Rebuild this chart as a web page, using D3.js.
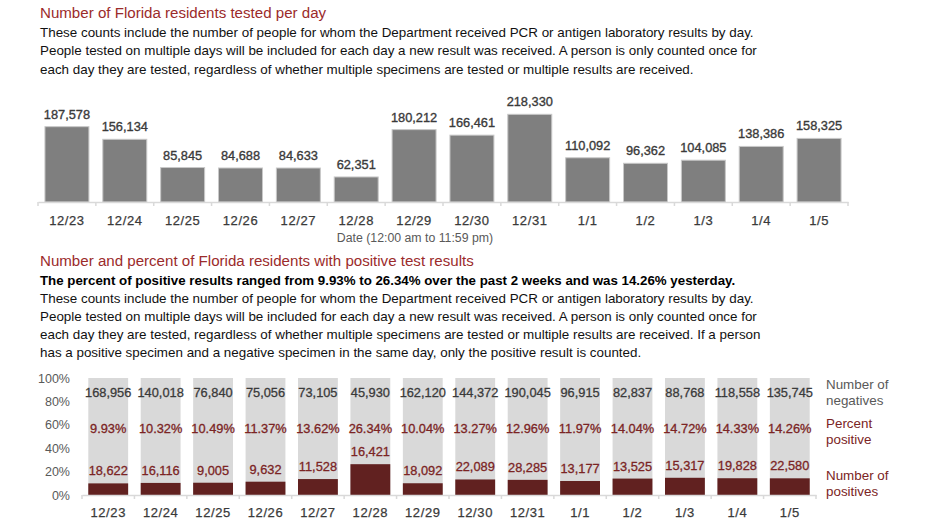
<!DOCTYPE html>
<html>
<head>
<meta charset="utf-8">
<script src="https://cdn.jsdelivr.net/npm/d3@7/dist/d3.min.js"></script>
<style>
  html, body { margin: 0; padding: 0; background: #fff; }
  svg { display: block; font-family: "Liberation Sans", Arial, sans-serif; }
</style>
</head>
<body>
<svg id="chart" width="932" height="524"></svg>
<script>
const dates = ["12/23","12/24","12/25","12/26","12/27","12/28","12/29","12/30","12/31","1/1","1/2","1/3","1/4","1/5"];
const tested = [187578,156134,85845,84688,84633,62351,180212,166461,218330,110092,96362,104085,138386,158325];
const negatives = [168956,140018,76840,75056,73105,45930,162120,144372,190045,96915,82837,88768,118558,135745];
const positives = [18622,16116,9005,9632,11528,16421,18092,22089,28285,13177,13525,15317,19828,22580];
const percentLabels = ["9.93%","10.32%","10.49%","11.37%","13.62%","26.34%","10.04%","13.27%","12.96%","11.97%","14.04%","14.72%","14.33%","14.26%"];
const yTicks = [0,0.2,0.4,0.6,0.8,1.0];

const title1 = "Number of Florida residents tested per day";
const body1 = [
  "These counts include the number of people for whom the Department received PCR or antigen laboratory results by day.",
  "People tested on multiple days will be included for each day a new result was received. A person is only counted once for",
  "each day they are tested, regardless of whether multiple specimens are tested or multiple results are received."
];
const xTitle1 = "Date (12:00 am to 11:59 pm)";
const title2 = "Number and percent of Florida residents with positive test results";
const bold2 = "The percent of positive results ranged from 9.93% to 26.34% over the past 2 weeks and was 14.26% yesterday.";
const body2 = [
  "These counts include the number of people for whom the Department received PCR or antigen laboratory results by day.",
  "People tested on multiple days will be included for each day a new result was received. A person is only counted once for",
  "each day they are tested, regardless of whether multiple specimens are tested or multiple results are received. If a person",
  "has a positive specimen and a negative specimen in the same day, only the positive result is counted."
];
const legend2 = [
  {lines:["Number of","negatives"], color:"#595959"},
  {lines:["Percent","positive"], color:"#7b2424"},
  {lines:["Number of","positives"], color:"#7b2424"}
];

const svg = d3.select("#chart");
const fmt = d3.format(",");
const RED = "#9b2b2b";
const DARK = "#3a3a3a";
const BODY = 13.4;

// ---------- Header 1 ----------
svg.append("text").attr("x",40).attr("y",18).attr("fill",RED)
  .attr("font-size",15.1).text(title1);
body1.forEach((t,i)=>{
  svg.append("text").attr("x",40).attr("y",36.5+i*18.5).attr("fill","#111")
    .attr("font-size",BODY).text(t);
});

// ---------- Chart 1 ----------
const x1 = d3.scaleBand().domain(dates).range([38,848]).paddingInner(0.24).paddingOuter(0.12);
const y1 = d3.scaleLinear().domain([0,250000]).range([202,101.6]);
const g1 = svg.append("g");
g1.selectAll("rect.bar").data(dates).join("rect")
  .attr("x",d=>x1(d)).attr("width",x1.bandwidth())
  .attr("y",(d,i)=>y1(tested[i])).attr("height",(d,i)=>y1(0)-y1(tested[i]))
  .attr("fill","#7f7f7f").attr("stroke","#c8c8c8").attr("stroke-width",1);
g1.selectAll("text.val").data(dates).join("text")
  .attr("x",d=>x1(d)+x1.bandwidth()/2).attr("y",(d,i)=>y1(tested[i])-8)
  .attr("text-anchor","middle").attr("font-size",12.8).attr("fill",DARK)
  .attr("stroke",DARK).attr("stroke-width",0.35)
  .text((d,i)=>fmt(tested[i]));
const ax1 = d3.axisBottom(x1).tickSize(0).tickPadding(14);
const axg1 = g1.append("g").attr("transform",`translate(0,${y1(0)})`).call(ax1);
axg1.select(".domain").attr("stroke","#d9d9d9").attr("stroke-width",1.5);
axg1.selectAll("text").attr("font-size",13).attr("fill",DARK).attr("letter-spacing",0.6)
  .attr("stroke",DARK).attr("stroke-width",0.25)
  .attr("font-family","Liberation Sans, Arial, sans-serif");
const step1 = x1.step();
g1.selectAll("line.tk").data(d3.range(dates.length+1)).join("line")
  .attr("x1",i=> i<dates.length ? x1(dates[i]) - step1*x1.paddingInner()/2 : x1(dates[dates.length-1])+x1.bandwidth()+step1*x1.paddingInner()/2)
  .attr("x2",i=> i<dates.length ? x1(dates[i]) - step1*x1.paddingInner()/2 : x1(dates[dates.length-1])+x1.bandwidth()+step1*x1.paddingInner()/2)
  .attr("y1",y1(0)).attr("y2",y1(0)+4).attr("stroke","#d9d9d9").attr("stroke-width",1.5);
svg.append("text").attr("x",415).attr("y",242).attr("text-anchor","middle")
  .attr("font-size",12.3).attr("fill","#595959").text(xTitle1);

// ---------- Header 2 ----------
svg.append("text").attr("x",40).attr("y",266).attr("fill",RED)
  .attr("font-size",15.1).text(title2);
svg.append("text").attr("x",40).attr("y",284.5).attr("fill","#000")
  .attr("font-size",13.3).attr("font-weight","bold").text(bold2);
body2.forEach((t,i)=>{
  svg.append("text").attr("x",40).attr("y",302.5+i*18.3).attr("fill","#111")
    .attr("font-size",BODY).text(t);
});

// ---------- Chart 2 ----------
const x2 = d3.scaleBand().domain(dates).range([82,816]).paddingInner(0.24).paddingOuter(0.12);
const y2 = d3.scaleLinear().domain([0,1]).range([495,378]);
const g2 = svg.append("g");
const share = positives.map((p,i)=>p/(p+negatives[i]));
g2.selectAll("rect.bg").data(dates).join("rect")
  .attr("x",d=>x2(d)).attr("width",x2.bandwidth())
  .attr("y",y2(1)).attr("height",y2(0)-y2(1)).attr("fill","#d9d9d9");
g2.selectAll("rect.pos").data(dates).join("rect")
  .attr("x",d=>x2(d)).attr("width",x2.bandwidth())
  .attr("y",(d,i)=>y2(share[i])).attr("height",(d,i)=>y2(0)-y2(share[i]))
  .attr("fill","#612120");
g2.selectAll("text.neg").data(dates).join("text")
  .attr("x",d=>x2(d)+x2.bandwidth()/2).attr("y",y2(0.84))
  .attr("text-anchor","middle").attr("font-size",12.8).attr("fill",DARK)
  .attr("stroke",DARK).attr("stroke-width",0.3)
  .text((d,i)=>fmt(negatives[i]));
g2.selectAll("text.pct").data(dates).join("text")
  .attr("x",d=>x2(d)+x2.bandwidth()/2).attr("y",y2(0.53))
  .attr("text-anchor","middle").attr("font-size",12.8).attr("fill","#7b2424")
  .attr("stroke","#7b2424").attr("stroke-width",0.3)
  .text((d,i)=>percentLabels[i]);
g2.selectAll("text.posv").data(dates).join("text")
  .attr("x",d=>x2(d)+x2.bandwidth()/2).attr("y",(d,i)=>y2(share[i])-8)
  .attr("text-anchor","middle").attr("font-size",12.8).attr("fill","#7b2424")
  .attr("stroke","#7b2424").attr("stroke-width",0.3)
  .text((d,i)=>fmt(positives[i]));
const ax2 = d3.axisBottom(x2).tickSize(0).tickPadding(13);
const axg2 = g2.append("g").attr("transform",`translate(0,${y2(0)})`).call(ax2);
axg2.select(".domain").attr("stroke","#d9d9d9").attr("stroke-width",1.5);
axg2.selectAll("text").attr("font-size",13).attr("fill",DARK).attr("letter-spacing",0.6)
  .attr("stroke",DARK).attr("stroke-width",0.25)
  .attr("font-family","Liberation Sans, Arial, sans-serif");
const step2 = x2.step();
g2.selectAll("line.tk").data(d3.range(dates.length+1)).join("line")
  .attr("x1",i=> i<dates.length ? x2(dates[i]) - step2*x2.paddingInner()/2 : x2(dates[dates.length-1])+x2.bandwidth()+step2*x2.paddingInner()/2)
  .attr("x2",i=> i<dates.length ? x2(dates[i]) - step2*x2.paddingInner()/2 : x2(dates[dates.length-1])+x2.bandwidth()+step2*x2.paddingInner()/2)
  .attr("y1",y2(0)).attr("y2",y2(0)+4).attr("stroke","#d9d9d9").attr("stroke-width",1.5);
const ay2 = d3.axisLeft(y2).tickValues(yTicks).tickFormat(d3.format(".0%")).tickSize(0).tickPadding(0);
const ayg = g2.append("g").attr("transform","translate(70,0)").call(ay2);
ayg.select(".domain").remove();
ayg.selectAll("text").attr("font-size",12.5).attr("fill","#595959").attr("font-family","Liberation Sans, Arial, sans-serif");

// legend
const legY = [389, 428, 480];
legend2.forEach((L,k)=>{
  L.lines.forEach((t,j)=>{
    svg.append("text").attr("x",826).attr("y",legY[k]+j*15.5).attr("fill",L.color)
      .attr("font-size",13.4).text(t);
  });
});
</script>
</body>
</html>
